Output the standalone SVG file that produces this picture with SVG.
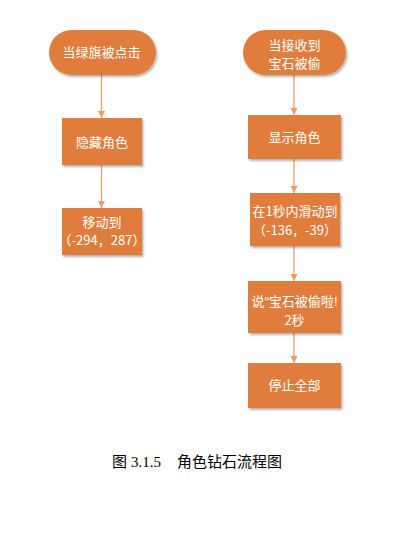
<svg xmlns="http://www.w3.org/2000/svg" width="406" height="542" viewBox="0 0 406 542">
<defs>
<filter id="sh" x="-10%" y="-10%" width="130%" height="140%">
<feDropShadow dx="1.5" dy="2" stdDeviation="1.2" flood-color="#000" flood-opacity="0.3"/>
</filter>
<marker id="arr" markerWidth="8" markerHeight="8" refX="7" refY="4" orient="auto" markerUnits="userSpaceOnUse">
<path d="M0,0.5 L7,4 L0,7.5 Z" fill="#EE9A62"/>
</marker>
<style>
.n{fill:#E07D3E;filter:url(#sh)}
.t{fill:#fff;font-family:"Noto Sans CJK SC","Noto Sans",sans-serif;font-size:13px;text-anchor:middle}
.l{font-family:"Liberation Sans",sans-serif}
.c{stroke:#EE9A62;stroke-width:1.2;fill:none;marker-end:url(#arr)}
.cap{font-family:"Noto Sans CJK SC",sans-serif;font-size:15px;fill:#000}
</style>
</defs>
<rect width="406" height="542" fill="#fff"/>
<g id="connectors">
<line class="c" x1="101.5" y1="75" x2="101.5" y2="118"/>
<line class="c" x1="101.5" y1="165" x2="101.5" y2="208"/>
<line class="c" x1="294" y1="75" x2="294" y2="115"/>
<line class="c" x1="294" y1="159" x2="294" y2="193"/>
<line class="c" x1="294" y1="246" x2="294" y2="281"/>
<line class="c" x1="294" y1="333" x2="294" y2="363"/>
</g>
<g id="start1">
<rect class="n" x="49" y="30" width="107" height="45" rx="22.5"/>
<text class="t" x="101.5" y="57" font-size="13.5">当绿旗被点击</text>
</g>
<g id="hide">
<rect class="n" x="62" y="118" width="80" height="47"/>
<text class="t" x="102" y="147">隐藏角色</text>
</g>
<g id="move">
<rect class="n" x="62" y="208" width="80" height="47"/>
<text class="t" x="102" y="227">移动到</text>
<text class="t" x="102" y="245">（-294，287）</text>
</g>
<g id="start2">
<rect class="n" x="243" y="30" width="103" height="45" rx="22.5"/>
<text class="t" x="294.5" y="50">当接收到</text>
<text class="t" x="294.5" y="68">宝石被偷</text>
</g>
<g id="show">
<rect class="n" x="248" y="115" width="93" height="44"/>
<text class="t" x="294.5" y="142">显示角色</text>
</g>
<g id="glide">
<rect class="n" x="250" y="193" width="90" height="53"/>
<text class="t" x="295" y="216">在1秒内滑动到</text>
<text class="t" x="295" y="235">（-136，-39）</text>
</g>
<g id="say">
<rect class="n" x="248" y="281" width="93" height="52"/>
<text class="t" x="294.5" y="306">说<tspan class="l">“</tspan>宝石被偷啦<tspan class="l">!</tspan></text>
<text class="t" x="294.5" y="325">2秒</text>
</g>
<g id="stop">
<rect class="n" x="248" y="363" width="93" height="45"/>
<text class="t" x="294.5" y="390">停止全部</text>
</g>
<g id="caption">
<text class="cap" x="112" y="467">图<tspan font-family="Liberation Serif" dx="4">3.1.5</tspan><tspan dx="16">角色钻石流程图</tspan></text>
</g>
</svg>
